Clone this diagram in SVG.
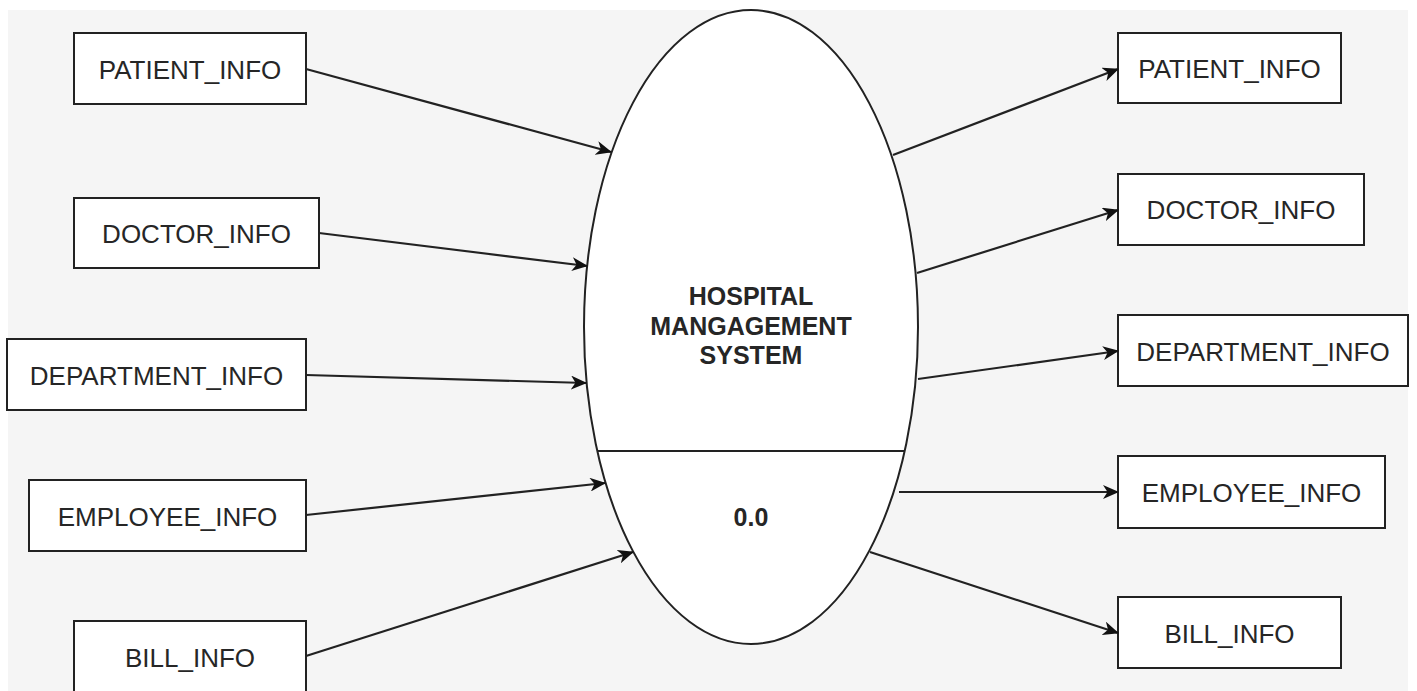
<svg xmlns="http://www.w3.org/2000/svg" width="1417" height="691" viewBox="0 0 1417 691">
  <style>
    .box { fill: #ffffff; stroke: #222222; stroke-width: 2; }
    .lbl { font-family: "Liberation Sans", Arial, sans-serif; font-size: 26px; fill: #262626; text-anchor: middle; }
    .proc { font-family: "Liberation Sans", Arial, sans-serif; font-size: 25px; font-weight: bold; fill: #262626; text-anchor: middle; }
    .edge { stroke: #222222; stroke-width: 2.2; fill: none; marker-end: url(#arrow); }
  </style>
  <defs>
    <marker id="arrow" viewBox="0 0 16 14" refX="15" refY="7" markerWidth="16" markerHeight="14" markerUnits="userSpaceOnUse" orient="auto">
      <path d="M0,0 L16,7 L0,14 L4.5,7 Z" fill="#111111"/>
    </marker>
  </defs>
  <rect x="0" y="0" width="1417" height="691" fill="#ffffff"/>
  <rect x="8" y="10" width="1400" height="681" fill="#f5f5f5"/>

  <g id="process">
    <ellipse cx="751" cy="327" rx="167" ry="317" fill="#ffffff" stroke="#222222" stroke-width="2"/>
    <line x1="598" y1="451" x2="904" y2="451" stroke="#222222" stroke-width="2"/>
    <text class="proc" x="751" y="305">HOSPITAL</text>
    <text class="proc" x="751" y="335">MANGAGEMENT</text>
    <text class="proc" x="751" y="364">SYSTEM</text>
    <text class="proc" x="751" y="526">0.0</text>
  </g>

  <g id="in-patient">
    <rect class="box" x="74" y="33" width="232" height="71"/>
    <text class="lbl" x="190" y="79">PATIENT_INFO</text>
  </g>
  <g id="in-doctor">
    <rect class="box" x="74" y="198" width="245" height="70"/>
    <text class="lbl" x="196.5" y="243">DOCTOR_INFO</text>
  </g>
  <g id="in-department">
    <rect class="box" x="7" y="339" width="299" height="71"/>
    <text class="lbl" x="156.5" y="385">DEPARTMENT_INFO</text>
  </g>
  <g id="in-employee">
    <rect class="box" x="29" y="480" width="277" height="71"/>
    <text class="lbl" x="167.5" y="526">EMPLOYEE_INFO</text>
  </g>
  <g id="in-bill">
    <rect class="box" x="74" y="621" width="232" height="72"/>
    <text class="lbl" x="190" y="667">BILL_INFO</text>
  </g>

  <g id="out-patient">
    <rect class="box" x="1118" y="33" width="223" height="70"/>
    <text class="lbl" x="1229.5" y="78">PATIENT_INFO</text>
  </g>
  <g id="out-doctor">
    <rect class="box" x="1118" y="174" width="246" height="71"/>
    <text class="lbl" x="1241" y="219">DOCTOR_INFO</text>
  </g>
  <g id="out-department">
    <rect class="box" x="1118" y="315" width="290" height="71"/>
    <text class="lbl" x="1263" y="361">DEPARTMENT_INFO</text>
  </g>
  <g id="out-employee">
    <rect class="box" x="1118" y="456" width="267" height="72"/>
    <text class="lbl" x="1251.5" y="502">EMPLOYEE_INFO</text>
  </g>
  <g id="out-bill">
    <rect class="box" x="1118" y="597" width="223" height="71"/>
    <text class="lbl" x="1229.5" y="643">BILL_INFO</text>
  </g>

  <g id="connectors">
    <line class="edge" x1="306" y1="69" x2="611" y2="152"/>
    <line class="edge" x1="319" y1="233" x2="587" y2="266"/>
    <line class="edge" x1="306" y1="375" x2="586" y2="383"/>
    <line class="edge" x1="306" y1="515" x2="605" y2="483"/>
    <line class="edge" x1="306" y1="656" x2="633" y2="552"/>

    <line class="edge" x1="893" y1="155" x2="1118" y2="69"/>
    <line class="edge" x1="917" y1="273" x2="1118" y2="210"/>
    <line class="edge" x1="918" y1="379" x2="1118" y2="351"/>
    <line class="edge" x1="899" y1="492" x2="1118" y2="492"/>
    <line class="edge" x1="870" y1="552" x2="1118" y2="633"/>
  </g>
</svg>
